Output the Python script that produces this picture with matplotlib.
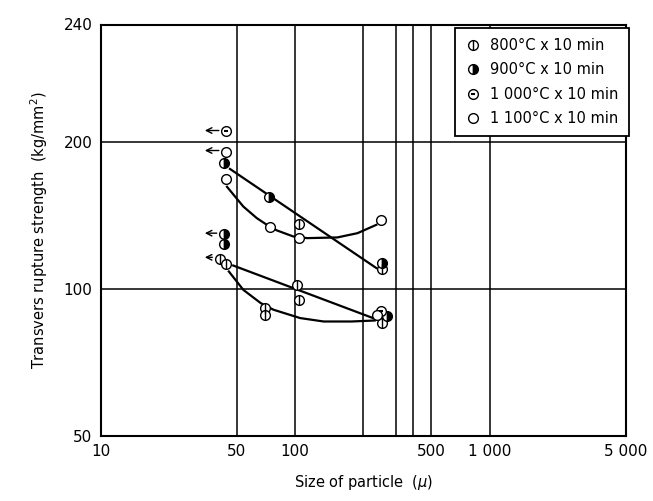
import matplotlib
matplotlib.use('Agg')
import matplotlib.pyplot as plt
from matplotlib.lines import Line2D

# values (x: particle size in micron, y: kg/mm2)
x_800 = [41, 44, 102, 105, 70, 70, 280, 105, 280]
y_800 = [115.2, 112.5, 101.9, 94.9, 91.3, 88.4, 85.1, 136, 109.7]
x_900 = [43, 73.3, 280, 43, 43, 298]
y_900 = [181, 154, 113.2, 129.4, 123.5, 87.8]
x_1000 = [44, 276]
y_1000 = [211, 89.9]
x_1100 = [44, 44, 74, 105, 276, 262]
y_1100 = [190.5, 168, 134, 127, 138.5, 88.4]

# hand-drawn trend lines
line_a_x = [46.2, 261]
line_a_y = [176, 110.3]
curve_b_x = [44.6, 54.1, 63.4, 74, 80.5, 97.7, 115, 164.5, 209, 261]
curve_b_y = [161.8, 147.4, 139.6, 134, 131.7, 128, 127, 127.4, 130, 135.2]
line_c_x = [48, 265]
line_c_y = [111.6, 86.4]
curve_d_x = [45.6, 54.1, 66.4, 77.3, 106, 140, 194, 256]
curve_d_y = [108.5, 99.5, 93.5, 90.6, 87.1, 85.7, 85.7, 86.1]

# points shown as "smaller than" (arrow to the left)
arrow_y = [211, 192, 130, 116]
arrow_tail = [40.5, 40.5, 39.5, 37.5]

grid_x = [50, 100, 224, 329, 405, 500, 1000]
grid_y = [100, 200]
xticks = [10, 50, 100, 500, 1000, 5000]
xtick_labels = ['10', '50', '100', '500', '1 000', '5 000']
yticks = [50, 100, 200]
ytick_labels = ['50', '100', '200']

plt.rcParams['font.family'] = ['DejaVu Sans']

fig = plt.figure(figsize=(6.53, 5.01), dpi=100)
ax = fig.add_axes([0.1542, 0.1303, 0.804, 0.8197])
ax.set_xscale('log')
ax.set_yscale('log')
ax.set_xlim(10, 5000)
ax.set_ylim(50, 347)

for gx in grid_x:
    ax.axvline(gx, color='black', linewidth=1.1, zorder=1)
for gy in grid_y:
    ax.axhline(gy, color='black', linewidth=1.1, zorder=1)

lw = 1.6
ax.plot(line_a_x, line_a_y, color='black', linewidth=lw, zorder=2)
ax.plot(curve_b_x, curve_b_y, color='black', linewidth=lw, zorder=2)
ax.plot(line_c_x, line_c_y, color='black', linewidth=lw, zorder=2)
ax.plot(curve_d_x, curve_d_y, color='black', linewidth=lw, zorder=2)

ms = 7
base = dict(linestyle='none', marker='o', markersize=ms, markeredgecolor='black',
            markeredgewidth=1.0, zorder=4)
bar = dict(linestyle='none', marker='|', markersize=ms, color='black',
           markeredgewidth=1.0, zorder=5)
dash = dict(linestyle='none', marker='_', markersize=3.5, color='black',
            markeredgewidth=1.5, zorder=5)

ax.plot(x_800, y_800, markerfacecolor='white', **base)
ax.plot(x_800, y_800, **bar)
ax.plot(x_900, y_900, markerfacecolor='black', fillstyle='right',
        markerfacecoloralt='white', **base)
ax.plot(x_900, y_900, **bar)
ax.plot(x_1000, y_1000, markerfacecolor='white', **base)
ax.plot(x_1000, y_1000, **dash)
ax.plot(x_1100, y_1100, markerfacecolor='white', **base)

for ya, xt in zip(arrow_y, arrow_tail):
    ax.annotate('', xy=(34.3, ya), xytext=(xt, ya),
                arrowprops=dict(arrowstyle='->', color='black', lw=1.0,
                                shrinkA=0, shrinkB=0), zorder=3)

ax.set_xticks(xticks)
ax.set_xticklabels(xtick_labels)
ax.set_yticks(yticks)
ax.set_yticklabels(ytick_labels)
ax.minorticks_off()
ax.tick_params(length=0, labelsize=11, pad=6)
ax.text(-0.015, 1.0, '240', transform=ax.transAxes, ha='right', va='center',
        fontsize=11)

for sp in ax.spines.values():
    sp.set_linewidth(1.5)

ax.set_xlabel('Size of particle  ($\\mu$)', fontsize=10.5, labelpad=10)
ax.set_ylabel('Transvers rupture strength  (kg/mm$^2$)', fontsize=10.5, labelpad=10)

h800 = (Line2D([], [], markerfacecolor='white', **base), Line2D([], [], **bar))
h900 = (Line2D([], [], markerfacecolor='black', fillstyle='right',
               markerfacecoloralt='white', **base), Line2D([], [], **bar))
h1000 = (Line2D([], [], markerfacecolor='white', **base), Line2D([], [], **dash))
h1100 = Line2D([], [], markerfacecolor='white', **base)
leg = ax.legend([h800, h900, h1000, h1100],
                ['800°C x 10 min', '900°C x 10 min', '1 000°C x 10 min', '1 100°C x 10 min'],
                loc='upper right', bbox_to_anchor=(1.006, 0.994), borderaxespad=0,
                fontsize=10.5, frameon=True, fancybox=False, framealpha=1,
                edgecolor='black', handlelength=1.0, handletextpad=0.7,
                borderpad=0.7, labelspacing=0.65)
leg.get_frame().set_linewidth(1.3)

fig.savefig('out.png', dpi=100)
